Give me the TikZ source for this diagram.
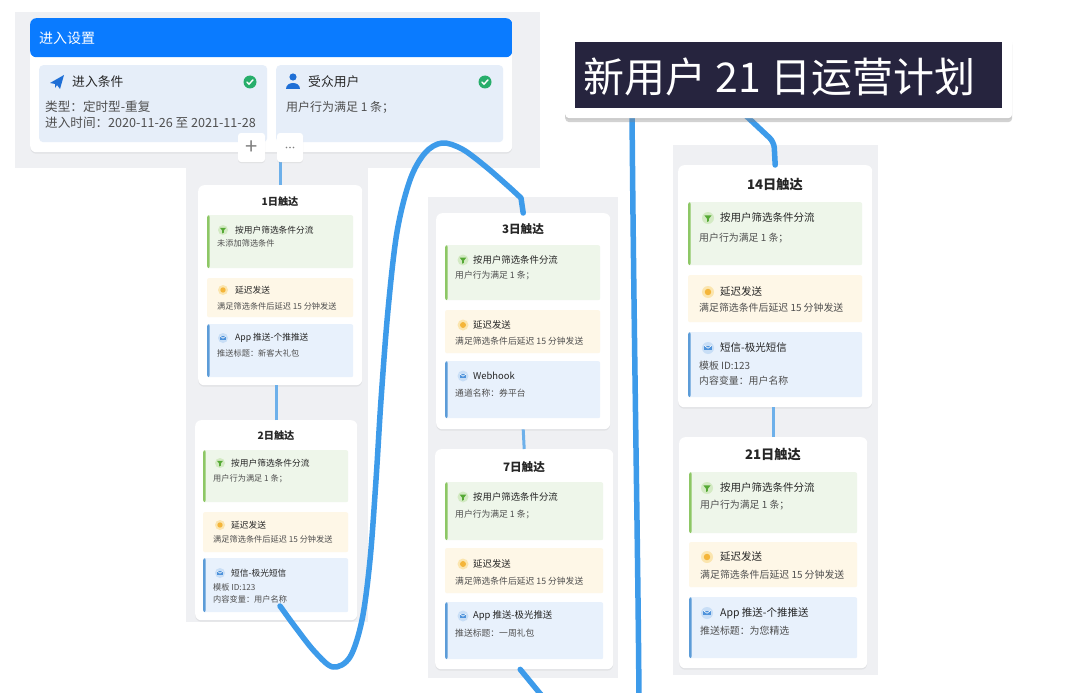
\documentclass[tikz,border=0pt]{standalone}
\usepackage{fontspec}
\setmainfont{Noto Sans CJK SC}
\usetikzlibrary{shadows}

\definecolor{hdblue}{HTML}{0A7BFF}
\definecolor{bggray}{HTML}{EFF0F3}
\definecolor{subfill}{HTML}{E6EEF9}
\definecolor{gfill}{HTML}{EEF6EA}
\definecolor{gbar}{HTML}{8DC765}
\definecolor{yfill}{HTML}{FEF7E7}
\definecolor{ybar}{HTML}{F1C25E}
\definecolor{bfill}{HTML}{E8F1FC}
\definecolor{bbar}{HTML}{5C9CD8}
\definecolor{gicbg}{HTML}{D3EAC3}
\definecolor{gic}{HTML}{55A935}
\definecolor{yicbg}{HTML}{FBE5AE}
\definecolor{yic}{HTML}{F4B53A}
\definecolor{bicbg}{HTML}{C8DEF6}
\definecolor{bic}{HTML}{4F93DB}
\definecolor{okgreen}{HTML}{27AE6B}
\definecolor{iconblue}{HTML}{1F6FD6}
\definecolor{inkc}{HTML}{262626}
\definecolor{bodyc}{HTML}{4F4F4F}
\definecolor{routec}{HTML}{3D9BEA}
\definecolor{linkc}{HTML}{6DB0EA}
\definecolor{titlebg}{HTML}{26243E}

\begin{document}
\begin{tikzpicture}[x=1pt, y=-1pt,
    card/.style={anchor=north west, inner sep=0, fill=white, rounded corners=6,
        drop shadow={opacity=0.12, shadow xshift=0pt, shadow yshift=-1.5pt}},
    sbox/.style n args={2}{anchor=north west, inner sep=0, fill=#1, rounded corners=2,
        path picture={\fill[#2] (path picture bounding box.north west) rectangle ([xshift=2.5pt]path picture bounding box.south west);}},
    greenbox/.style={sbox={gfill}{gbar}},
    yellowbox/.style={sbox={yfill}{ybar}},
    bluebox/.style={sbox={bfill}{bbar}},
    funnel/.style={circle, inner sep=0, minimum size=#1, fill=gicbg,
        path picture={\fill[gic] ([shift={(-0.3*#1,-0.22*#1)}]path picture bounding box.center) -- ++(0.6*#1,0) -- ++(-0.22*#1,0.28*#1) -- ++(0,0.2*#1) -- ++(-0.16*#1,0.08*#1) -- ++(0,-0.28*#1) -- cycle;}},
    sunic/.style={circle, inner sep=0, minimum size=#1, fill=yicbg,
        path picture={\fill[yic] (path picture bounding box.center) circle (0.27*#1 pt);}},
    mailic/.style={circle, inner sep=0, minimum size=#1, fill=bicbg,
        path picture={\fill[bic] ([shift={(-0.3*#1,-0.2*#1)}]path picture bounding box.center) rectangle ++(0.6*#1,0.4*#1);
            \draw[white, line width=0.6] ([shift={(-0.3*#1,-0.2*#1)}]path picture bounding box.center) -- ++(0.3*#1,0.22*#1) -- ++(0.3*#1,-0.22*#1);}},
    chk/.style={circle, inner sep=0, minimum size=13, fill=okgreen,
        path picture={\draw[white, line width=1.4, line cap=round] ([shift={(-3,0)}]path picture bounding box.center) -- ++(2,2.2) -- ++(4,-4.4);}},
    btn/.style={inner sep=0, fill=white, rounded corners=3, text=gray,
        drop shadow={opacity=0.15, shadow xshift=0pt, shadow yshift=-1pt}},
    dots/.style={path picture={\foreach \d in {-3.5,0,3.5} \fill[gray] ([xshift=\d pt]path picture bounding box.center) circle (0.8pt);}},
    ctitle/.style={inner sep=0, text=inkc, font=\fontsize{#1}{#1}\selectfont\bfseries},
    stitle/.style={anchor=west, inner sep=0, text=inkc, font=\fontsize{#1}{#1}\selectfont},
    body/.style={anchor=west, inner sep=0, text=bodyc, font=\fontsize{#1}{#1}\selectfont},
    link/.style={draw=linkc, line width=3},
    route/.style={draw=routec, line width=5.5, line cap=round, line join=round}]

    \clip (0,0) rectangle (1080,693);
    \fill[white] (0,0) rectangle (1080,693);

    % grey screen areas
    \fill[bggray] (15,12) rectangle (540,168);
    \fill[bggray] (186,168) rectangle (368,622);
    \fill[bggray] (428,197) rectangle (618,678);
    \fill[bggray] (673,145) rectangle (878,675);

    % entry settings
    \node[card, minimum width=482, minimum height=134,
        path picture={\fill[hdblue] (path picture bounding box.north west) rectangle ([yshift=-39pt]path picture bounding box.north east);}] (entry) at (30,18) {};
    \node[anchor=west, inner sep=0, text=white, font=\fontsize{14}{14}\selectfont] (hd) at (39,38) {进入设置};
    \node[anchor=north west, inner sep=0, fill=subfill, rounded corners=4, minimum width=228, minimum height=77] (cond) at (39,65) {};
    \node[anchor=north west, inner sep=0, fill=subfill, rounded corners=4, minimum width=227, minimum height=77] (aud) at (276,65) {};
    \fill[iconblue] (50,83) -- (64,75) -- (60,89) -- (57,85) -- (55,88) -- (55,84) -- cycle;
    \node[stitle=12.8] (condt) at (72,82) {进入条件};
    \node[chk] (chk1) at (250,82) {};
    \node[body=12.6] (cond1) at (45,107) {类型：定时型-重复};
    \node[body=12.6] (cond2) at (45,123) {进入时间：2020-11-26 至 2021-11-28};
    \fill[iconblue] (293,77) circle (3.6pt);
    \fill[iconblue] (286,89) .. controls (286,81) and (300,81) .. (300,89) -- cycle;
    \node[stitle=12.8] (audt) at (308,82) {受众用户};
    \node[chk] (chk2) at (485,82) {};
    \node[body=12] (aud1) at (286,107) {用户行为满足 1 条；};

    % day 1 and day 2
    \node[card, minimum width=164, minimum height=200] (card1) at (198,185) {};
    \node[ctitle=10.2] (t1) at (280,202) {1日触达};
    \node[greenbox, minimum width=146, minimum height=53] (g1) at (207,215) {};
    \node[funnel=10] (ig1) at (223,230) {};
    \node[stitle=8.7] (sg1) at (235,230) {按用户筛选条件分流};
    \node[body=8.2] (bg1) at (217,243) {未添加筛选条件};
    \node[yellowbox, minimum width=146, minimum height=39] (y1) at (207,278) {};
    \node[sunic=10] (iy1) at (223,290) {};
    \node[stitle=8.7] (sy1) at (235,290) {延迟发送};
    \node[body=8.2] (by1) at (217,306) {满足筛选条件后延迟 15 分钟发送};
    \node[bluebox, minimum width=146, minimum height=53] (l1) at (207,324) {};
    \node[mailic=10] (il1) at (223,338) {};
    \node[stitle=8.7] (sl1) at (235,338) {App 推送-个推推送};
    \node[body=8.2] (bl1) at (217,353) {推送标题：新客大礼包};

    \node[card, minimum width=162, minimum height=200] (card2) at (195,420) {};
    \node[ctitle=10.2] (t2) at (276,436) {2日触达};
    \node[greenbox, minimum width=145, minimum height=52] (g2) at (203,450) {};
    \node[funnel=10] (ig2) at (220,463) {};
    \node[stitle=8.7] (sg2) at (231,463) {按用户筛选条件分流};
    \node[body=8.2] (bg2) at (213,479) {用户行为满足 1 条；};
    \node[yellowbox, minimum width=145, minimum height=40] (y2) at (203,512) {};
    \node[sunic=10] (iy2) at (220,525) {};
    \node[stitle=8.7] (sy2) at (231,525) {延迟发送};
    \node[body=8.2] (by2) at (213,539) {满足筛选条件后延迟 15 分钟发送};
    \node[bluebox, minimum width=145, minimum height=54] (l2) at (203,558) {};
    \node[mailic=10] (il2) at (220,573) {};
    \node[stitle=8.7] (sl2) at (231,573) {短信-极光短信};
    \node[body=8.2] (bl2) at (213,587) {模板 ID:123};
    \node[body=8.2] (bl2b) at (213,599) {内容变量：用户名称};

    % day 3 and day 7
    \node[card, minimum width=174, minimum height=216] (card3) at (436,213) {};
    \node[ctitle=11.6] (t3) at (523,229) {3日触达};
    \node[greenbox, minimum width=155, minimum height=55] (g3) at (445,245) {};
    \node[funnel=11] (ig3) at (463,260) {};
    \node[stitle=9.4] (sg3) at (473,260) {按用户筛选条件分流};
    \node[body=8.8] (bg3) at (455,275) {用户行为满足 1 条；};
    \node[yellowbox, minimum width=155, minimum height=43] (y3) at (445,310) {};
    \node[sunic=11] (iy3) at (463,325) {};
    \node[stitle=9.4] (sy3) at (473,325) {延迟发送};
    \node[body=8.8] (by3) at (455,341) {满足筛选条件后延迟 15 分钟发送};
    \node[bluebox, minimum width=155, minimum height=57] (l3) at (445,361) {};
    \node[mailic=11] (il3) at (463,376) {};
    \node[stitle=9.4] (sl3) at (473,376) {Webhook};
    \node[body=8.8] (bl3) at (455,393) {通道名称：券平台};

    \node[card, minimum width=178, minimum height=220] (card7) at (435,449) {};
    \node[ctitle=11.6] (t7) at (524,467) {7日触达};
    \node[greenbox, minimum width=158, minimum height=58] (g7) at (445,482) {};
    \node[funnel=11] (ig7) at (463,497) {};
    \node[stitle=9.4] (sg7) at (473,497) {按用户筛选条件分流};
    \node[body=8.8] (bg7) at (455,514) {用户行为满足 1 条；};
    \node[yellowbox, minimum width=158, minimum height=45] (y7) at (445,548) {};
    \node[sunic=11] (iy7) at (463,564) {};
    \node[stitle=9.4] (sy7) at (473,564) {延迟发送};
    \node[body=8.8] (by7) at (455,581) {满足筛选条件后延迟 15 分钟发送};
    \node[bluebox, minimum width=158, minimum height=57] (l7) at (445,602) {};
    \node[mailic=11] (il7) at (463,616) {};
    \node[stitle=9.4] (sl7) at (473,616) {App 推送-极光推送};
    \node[body=8.8] (bl7) at (455,633) {推送标题：一周礼包};

    % day 14 and day 21
    \node[card, minimum width=194, minimum height=242] (card14) at (678,165) {};
    \node[ctitle=13.2] (t14) at (775,185) {14日触达};
    \node[greenbox, minimum width=174, minimum height=63] (g14) at (688,202) {};
    \node[funnel=12] (ig14) at (708,218) {};
    \node[stitle=10.5] (sg14) at (720,218) {按用户筛选条件分流};
    \node[body=9.9] (bg14) at (699,238) {用户行为满足 1 条；};
    \node[yellowbox, minimum width=174, minimum height=47] (y14) at (688,275) {};
    \node[sunic=12] (iy14) at (708,292) {};
    \node[stitle=10.5] (sy14) at (720,292) {延迟发送};
    \node[body=9.9] (by14) at (699,308) {满足筛选条件后延迟 15 分钟发送};
    \node[bluebox, minimum width=174, minimum height=65] (l14) at (688,332) {};
    \node[mailic=12] (il14) at (708,348) {};
    \node[stitle=10.5] (sl14) at (720,348) {短信-极光短信};
    \node[body=9.9] (bl14) at (699,366) {模板 ID:123};
    \node[body=9.9] (bl14b) at (699,381) {内容变量：用户名称};

    \node[card, minimum width=188, minimum height=231] (card21) at (679,437) {};
    \node[ctitle=13.2] (t21) at (773,455) {21日触达};
    \node[greenbox, minimum width=168, minimum height=61] (g21) at (689,472) {};
    \node[funnel=12] (ig21) at (707,488) {};
    \node[stitle=10.5] (sg21) at (720,488) {按用户筛选条件分流};
    \node[body=9.9] (bg21) at (700,505) {用户行为满足 1 条；};
    \node[yellowbox, minimum width=168, minimum height=45] (y21) at (689,542) {};
    \node[sunic=12] (iy21) at (707,557) {};
    \node[stitle=10.5] (sy21) at (720,557) {延迟发送};
    \node[body=9.9] (by21) at (700,575) {满足筛选条件后延迟 15 分钟发送};
    \node[bluebox, minimum width=168, minimum height=61] (l21) at (689,597) {};
    \node[mailic=12] (il21) at (707,613) {};
    \node[stitle=10.5] (sl21) at (720,613) {App 推送-个推推送};
    \node[body=9.9] (bl21) at (700,631) {推送标题：为您精选};

    % links inside the columns
    \draw[link] (card1.north) -- (card1.north |- entry.south);
    \draw[link] (card2.north) -- (card2.north |- card1.south);
    \draw[link] (card3.south) -- (card7.north);
    \draw[link] (card21.north) -- (card21.north |- card14.south);

    \node[btn, minimum width=27, minimum height=29, font=\fontsize{22}{22}\selectfont] (plus) at (251.5,147.5) {+};
    \node[btn, dots, minimum width=26, minimum height=29] (more) at (290,147.5) {};

    % hand drawn route
    \coordinate (a0) at (280,606);
    \coordinate (b1) at (547,702);
    \coordinate (c0) at (632,112);
    \coordinate (c1) at (639,702);
    \coordinate (d0) at (742,112);
    \draw[route] plot[smooth, tension=0.55] coordinates {(a0) (296,628) (315,652) (333,667) (350,657) (362,620) (370,560) (376,480) (381,400) (388,310) (397,232) (410,180) (425,153) (442,143) (462,149) (485,166) (508,186) (521,198)} -- (card3.north);
    \draw[route] ([xshift=-4pt]card7.south) -- (b1);
    \draw[route] (c0) .. controls (634,350) and (638,550) .. (c1);
    \draw[route, rounded corners=6] (d0) -- (774,142) -- (card14.north);

    % title
    \node[card, rounded corners=4, minimum width=447, minimum height=81,
        drop shadow={opacity=0.35, shadow xshift=0pt, shadow yshift=-4pt}] (title) at (565,37) {};
    \node[anchor=north west, inner sep=0, fill=titlebg, minimum width=427, minimum height=66] (banner) at (575,42) {};
    \node[anchor=west, inner sep=0, text=white, font=\fontsize{41}{41}\selectfont] (ttl) at (583,77) {新用户 21 日运营计划};
\end{tikzpicture}
\end{document}
